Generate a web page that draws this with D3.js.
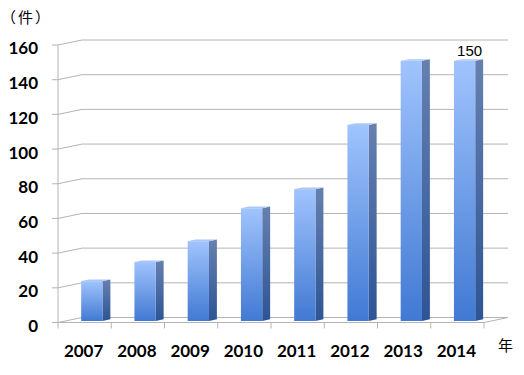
<!DOCTYPE html>
<html>
<head>
<meta charset="utf-8">
<title>Yearly count</title>
<script src="https://d3js.org/d3.v7.min.js"></script>
<style>
  body { margin: 0; background: #fff; }
  svg { display: block; }
  .tick-label { font-family: Lato, "Open Sans", sans-serif; font-weight: bold; font-size: 17px; fill: #000; }
  .unit { font-family: "Noto Sans CJK JP", sans-serif; font-size: 15px; fill: #000; }
</style>
</head>
<body>
<div id="chart"></div>
<script>
// data
const years = ["2007", "2008", "2009", "2010", "2011", "2012", "2013", "2014"];
const counts = [23, 34, 46, 65, 76, 113, 150, 150];
const yTicks = [0, 20, 40, 60, 80, 100, 120, 140, 160];
const labelled = ["2014"]; // only the last bar carries its value

const W = 524, H = 375;
// 3d depth vector of the floor / back wall
const depth = {dx: 24, dy: -5};
// bar sits between these fractions of the depth
const f1 = 0.3, f2 = 0.63;

const svg = d3.select("#chart").append("svg")
  .attr("width", W).attr("height", H);

const x = d3.scaleBand().domain(years).range([58, 484]).padding(0);
const y = d3.scaleLinear().domain([0, 160]).range([322.5, 45]);

// gradients
const defs = svg.append("defs");
function grad(id, top, bottom) {
  const g = defs.append("linearGradient").attr("id", id)
    .attr("x1", 0).attr("y1", 0).attr("x2", 0).attr("y2", 1);
  g.append("stop").attr("offset", "0%").attr("stop-color", top);
  g.append("stop").attr("offset", "100%").attr("stop-color", bottom);
}
grad("front", "#a0c4fd", "#4179d3");
grad("side", "#6680b0", "#2d5494");

const grid = svg.append("g").attr("stroke", "#b4b4b4").attr("fill", "none").attr("stroke-width", 1);

// back wall gridlines + left wall diagonals
yTicks.forEach(t => {
  const yy = y(t);
  if (t > 0) {
    grid.append("line")
      .attr("x1", 58 + depth.dx).attr("y1", yy + depth.dy)
      .attr("x2", 484 + depth.dx).attr("y2", yy + depth.dy);
  }
  grid.append("line")
    .attr("x1", 58).attr("y1", yy)
    .attr("x2", 58 + depth.dx).attr("y2", yy + depth.dy);
  // small tick left of axis
  grid.append("line")
    .attr("x1", 52).attr("y1", yy).attr("x2", 58).attr("y2", yy);
});

// floor
grid.append("path")
  .attr("d", `M58,${y(0)} L484,${y(0)} L${484 + depth.dx},${y(0) + depth.dy} L${58 + depth.dx},${y(0) + depth.dy}`);
// front vertical axis
grid.append("line").attr("x1", 58).attr("y1", y(160)).attr("x2", 58).attr("y2", y(0));
// category ticks
years.concat(["end"]).forEach((yr, i) => {
  const xx = 58 + i * x.bandwidth();
  grid.append("line").attr("x1", xx).attr("y1", y(0)).attr("x2", xx).attr("y2", y(0) + 6);
});

// bars
const bw = x.bandwidth() * 0.4;
const bars = svg.append("g").selectAll("g")
  .data(years.map((yr, i) => ({year: yr, value: counts[i]})))
  .join("g");

bars.each(function(d) {
  const g = d3.select(this);
  const xl = x(d.year) + x.bandwidth() * 0.3 + f1 * depth.dx;
  const xr = xl + bw;
  const ddx = (f2 - f1) * depth.dx, ddy = (f2 - f1) * depth.dy;
  const yTop = y(d.value) + f1 * depth.dy;
  const yBot = y(0) + f1 * depth.dy;
  // side
  g.append("path")
    .attr("d", `M${xr},${yTop} L${xr + ddx},${yTop + ddy} L${xr + ddx},${yBot + ddy} L${xr},${yBot}Z`)
    .attr("fill", "url(#side)");
  // top
  g.append("path")
    .attr("d", `M${xl},${yTop} L${xl + ddx},${yTop + ddy} L${xr + ddx},${yTop + ddy} L${xr},${yTop}Z`)
    .attr("fill", "#a9c8f6");
  // front
  g.append("rect")
    .attr("x", xl).attr("y", yTop)
    .attr("width", bw).attr("height", yBot - yTop)
    .attr("fill", "url(#front)");
  if (labelled.includes(d.year)) {
    g.append("text")
      .attr("x", xl + bw / 2 + 5).attr("y", yTop - 5)
      .attr("text-anchor", "middle")
      .style("font-family", "'Liberation Sans', Arial, sans-serif")
      .style("font-size", "15px")
      .text(d.value);
  }
});

// y tick labels
svg.append("g").selectAll("text")
  .data(yTicks)
  .join("text")
  .attr("class", "tick-label")
  .attr("x", 38)
  .attr("y", d => y(d) + 3.5)
  .attr("dy", "0.35em")
  .attr("text-anchor", "end")
  .text(d => d);

// x tick labels
svg.append("g").selectAll("text")
  .data(years)
  .join("text")
  .attr("class", "tick-label")
  .attr("x", d => x(d) + x.bandwidth() / 2 - 1)
  .attr("y", 357)
  .attr("text-anchor", "middle")
  .text(d => d);

// units
svg.append("text").attr("class", "unit").attr("x", 1).attr("y", 23)
  .style("letter-spacing", "2px").text("（件）");
svg.append("text").attr("class", "unit").attr("x", 498).attr("y", 351).text("年");
</script>
</body>
</html>
